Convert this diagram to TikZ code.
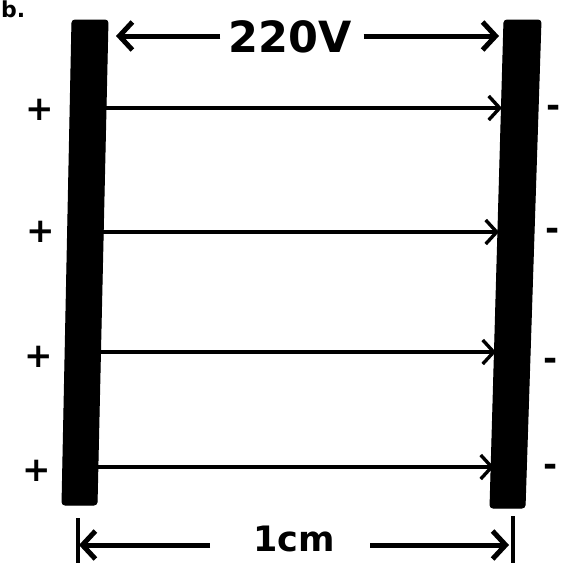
\documentclass[tikz,border=0pt]{standalone}
\usepackage{fontspec}
\setmainfont{DejaVu Sans}
\usetikzlibrary{arrows.meta}
\tikzset{
  plate/.style={fill=black, draw=black, line width=1pt, rounded corners=3pt},
  field/.style={line width=3.4pt, -{Straight Barb[length=11pt,width=24pt,line width=3.4pt]}},
  dim/.style={line width=5pt, -{Straight Barb[length=13pt,width=28pt,line width=5pt]}},
  sign/.style={font=\bfseries\fontsize{34}{34}\selectfont, inner sep=0pt},
  lbl/.style={font=\bfseries\fontsize{43}{43}\selectfont, inner sep=0pt},
}
\begin{document}
\begin{tikzpicture}[x=1pt,y=-1pt]
\useasboundingbox (0,0) rectangle (568,563);
% label b.
\node[font=\bfseries\fontsize{22}{22}\selectfont, inner sep=0pt, anchor=north west] (blabel) at (1,1) {b.};
% plates
\draw[plate] (72,20) -- (108,20) -- (97,505) -- (62,505) -- cycle;
\draw[plate] (504,20) -- (541,20) -- (525,508) -- (490,508) -- cycle;
% anchor coordinates for field lines
\foreach \i/\y/\xl/\xr in {1/108/106/502, 2/232/103/499, 3/352/100/496, 4/467/98/494}{
  \coordinate (L\i) at (\xl,\y);
  \coordinate (R\i) at (\xr,\y);
  \draw[field] (L\i) -- (R\i);
}
% signs
\node[sign] (p1) at (40,110) {+};
\node[sign] (p2) at (41,232) {+};
\node[sign] (p3) at (39,357) {+};
\node[sign] (p4) at (37,471) {+};
\node[sign] (m1) at (554,111) {-};
\node[sign] (m2) at (553,234) {-};
\node[sign] (m3) at (551,364) {-};
\node[sign] (m4) at (551,470) {-};
% top voltage
\node[lbl] (volt) at (290,37) {220V};
\coordinate (tl) at (116,36);
\coordinate (tr) at (499,36);
\draw[dim] (volt.west) ++(-8,-1) -- (tl);
\draw[dim] (volt.east) ++(12,-1) -- (tr);
% bottom distance
\node[font=\bfseries\fontsize{35}{35}\selectfont, inner sep=0pt] (dist) at (294,539) {1cm};
\coordinate (bl) at (79,545);
\coordinate (br) at (509,545);
\coordinate (blt) at (78,518);
\coordinate (blb) at (78,563);
\coordinate (brt) at (513,516);
\coordinate (brb) at (513,563);
\draw[line width=3.5pt] (blt) -- (blb);
\draw[line width=3.5pt] (brt) -- (brb);
\draw[dim] (210,545) -- (bl);
\draw[dim] (370,545) -- (br);
\end{tikzpicture}
\end{document}
